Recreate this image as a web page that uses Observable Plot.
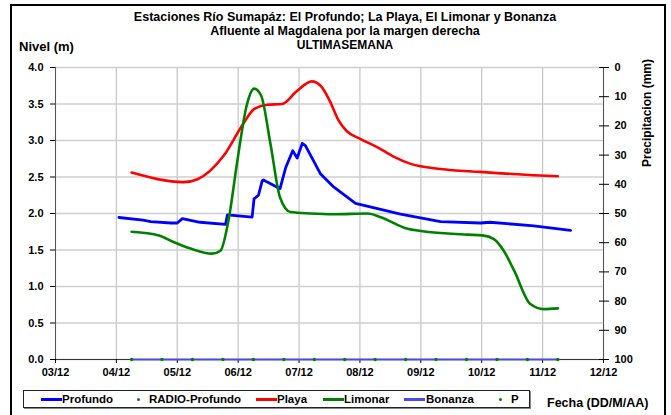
<!DOCTYPE html>
<html><head><meta charset="utf-8">
<script src="https://cdn.jsdelivr.net/npm/d3@7"></script>
<script src="https://cdn.jsdelivr.net/npm/@observablehq/plot@0.6"></script>
<style>
body{margin:0;background:#fff;font-family:"Liberation Sans",Arial,sans-serif;}
#wrap{position:relative;width:671px;height:415px;overflow:hidden;background:#fff;}
#frame{position:absolute;left:10px;top:4px;width:656px;height:440px;border:2px solid #000;box-sizing:border-box;}
#chart{position:absolute;left:0;top:0;}
.t{position:absolute;font-weight:bold;color:#000;white-space:nowrap;}
#title{left:345px;top:10px;transform:translateX(-50%);text-align:center;font-size:12.5px;line-height:14px;}
#title .l3{font-size:12px;}
#nivel{left:19px;top:39px;font-size:13px;}
#precip{left:647px;top:113px;font-size:12px;transform:translate(-50%,-50%) rotate(-90deg);}
#fecha{left:547px;top:396px;font-size:12.5px;}
#legend{position:absolute;left:23px;top:390px;width:507px;height:18px;box-sizing:border-box;border:1px solid #222;box-shadow:1px 1px 0 #888;background:#fff;}
#legend .lab{position:absolute;top:1px;font-size:11.5px;font-weight:bold;line-height:14px;}
#legend .ln{position:absolute;top:7px;width:21px;height:3px;}
#legend .dt{position:absolute;top:7px;width:3px;height:3px;border-radius:50%;}
</style></head>
<body>
<div id="wrap">
  <div id="chart"></div>
  <div id="frame"></div>
  <div class="t" id="title">Estaciones Río Sumapáz: El Profundo; La Playa, El Limonar y Bonanza<br>Afluente al Magdalena por la margen derecha<br><span class="l3">ULTIMASEMANA</span></div>
  <div class="t" id="nivel">Nivel (m)</div>
  <div class="t" id="precip">Precipitacion (mm)</div>
  <div class="t" id="fecha">Fecha (DD/M/AA)</div>
  <div id="legend"></div>
</div>
<script>
// ---- data ----
const profundoFecha = ["2012-12-04T01:00","2012-12-04T10:30","2012-12-04T13:30","2012-12-04T21:30","2012-12-05T00:00","2012-12-05T02:00","2012-12-05T09:00","2012-12-05T19:00","2012-12-05T19:45","2012-12-06T05:30","2012-12-06T06:15","2012-12-06T08:00","2012-12-06T09:30","2012-12-06T10:00","2012-12-06T11:30","2012-12-06T16:30","2012-12-06T18:45","2012-12-06T21:30","2012-12-06T23:15","2012-12-07T01:15","2012-12-07T02:30","2012-12-07T08:30","2012-12-07T13:45","2012-12-07T22:15","2012-12-08T16:00","2012-12-09T07:45","2012-12-09T23:30","2012-12-10T03:15","2012-12-10T20:30","2012-12-11T11:00"];
const profundoNivel = [1.945,1.91,1.89,1.87,1.87,1.93,1.88,1.85,1.98,1.95,2.20,2.25,2.45,2.46,2.43,2.34,2.63,2.86,2.76,2.96,2.93,2.54,2.36,2.14,1.99,1.89,1.87,1.88,1.83,1.77];

const playaFecha = ["2012-12-04T06:00","2012-12-05T02:30","2012-12-05T08:00","2012-12-05T18:15","2012-12-06T02:00","2012-12-06T06:15","2012-12-06T11:30","2012-12-06T17:15","2012-12-06T23:15","2012-12-07T05:00","2012-12-07T08:30","2012-12-07T12:00","2012-12-07T15:30","2012-12-07T18:45","2012-12-08T00:15","2012-12-08T06:45","2012-12-08T13:15","2012-12-08T20:00","2012-12-09T07:45","2012-12-09T23:30","2012-12-10T23:00","2012-12-11T06:00"];
const playaNivel = [2.56,2.43,2.47,2.79,3.23,3.43,3.49,3.50,3.68,3.81,3.75,3.55,3.28,3.13,3.02,2.91,2.78,2.68,2.61,2.57,2.52,2.51];

const limonarFecha = ["2012-12-04T06:00","2012-12-04T16:45","2012-12-04T22:30","2012-12-05T05:15","2012-12-05T13:45","2012-12-05T17:00","2012-12-05T20:25","2012-12-05T23:30","2012-12-06T03:30","2012-12-06T06:15","2012-12-06T09:00","2012-12-06T12:45","2012-12-06T16:30","2012-12-06T20:40","2012-12-07T04:30","2012-12-07T13:45","2012-12-08T03:00","2012-12-08T08:10","2012-12-08T18:45","2012-12-09T00:00","2012-12-09T18:15","2012-12-10T00:15","2012-12-10T04:50","2012-12-10T08:40","2012-12-10T12:45","2012-12-10T19:10","2012-12-11T00:30","2012-12-11T06:00"];
const limonarNivel = [1.75,1.70,1.61,1.52,1.45,1.49,1.95,2.68,3.50,3.71,3.62,2.95,2.22,2.02,2.00,1.99,2.00,1.95,1.79,1.76,1.71,1.70,1.65,1.49,1.22,0.76,0.69,0.70];

const bonanzaFecha = ["2012-12-04T06:00","2012-12-11T06:00"];
const bonanzaNivel = [0,0];

const pFecha = ["2012-12-04T06:00","2012-12-04T18:00","2012-12-05T06:00","2012-12-05T18:00","2012-12-06T06:00","2012-12-06T18:00","2012-12-07T06:00","2012-12-07T18:00","2012-12-08T06:00","2012-12-08T18:00","2012-12-09T06:00","2012-12-09T18:00","2012-12-10T06:00","2012-12-10T18:00","2012-12-11T06:00"];
const pValor = [0,0,0,0,0,0,0,0,0,0,0,0,0,0,0];

const nivelTicks = [0,0.5,1,1.5,2,2.5,3,3.5,4];
const precipTicks = [0,10,20,30,40,50,60,70,80,90,100];
const fechaInicio = "2012-12-03T00:00", fechaFin = "2012-12-12T00:00";

const legendNames = ["Profundo","RADIO-Profundo","Playa","Limonar","Bonanza","P"];
const legendColors = ["#0000ff","#008000","#ff0000","#008000","#4a4ae6","#008000"];
const legendKinds = ["line","dot","line","line","line","dot"];

// ---- build ----
const parse = s => new Date(s + ":00Z");
const rows = (f, v) => f.map((d, i) => ({fecha: parse(d), nivel: v[i]}));
const X0 = parse(fechaInicio), X1 = parse(fechaFin);
const dayTicks = d3.utcDay.range(X0, new Date(+X1 + 1));
const pMax = d3.max(precipTicks), yMax = d3.max(nivelTicks);
const precipToY = p => yMax - p * yMax / pMax;

const chart = Plot.plot({
  width: 671, height: 415,
  marginTop: 67, marginBottom: 56, marginLeft: 55, marginRight: 68,
  style: {fontFamily: "Liberation Sans, Arial, sans-serif", fontSize: "11px", fontWeight: "bold", color: "#000", background: "transparent"},
  x: {type: "utc", domain: [X0, X1]},
  y: {domain: [0, yMax]},
  marks: [
    Plot.gridX(dayTicks, {stroke: "#c8c8c8", strokeOpacity: 1, strokeWidth: 1.3}),
    Plot.gridY(nivelTicks, {stroke: "#cfcfcf", strokeOpacity: 1, strokeWidth: 1.3}),
    Plot.ruleX([X0, X1], {stroke: "#555"}),
    Plot.ruleY([0], {stroke: "#333"}),
    Plot.axisY({ticks: nivelTicks, anchor: "left", tickSize: 5, tickPadding: 7, tickFormat: d => d.toFixed(1), label: null}),
    Plot.axisY({ticks: precipTicks.map(precipToY), anchor: "right", tickSize: 10, dx: -5, tickFormat: () => "", label: null}),
    Plot.axisY({ticks: precipTicks.map(precipToY), anchor: "right", tickSize: 0, tickPadding: 11, tickFormat: d => String(Math.round((yMax - d) * pMax / yMax)), label: null}),
    Plot.axisX({ticks: dayTicks, anchor: "bottom", tickSize: 4, tickPadding: 5, tickFormat: d3.utcFormat("%d/%m"), label: null}),
    Plot.line(rows(profundoFecha, profundoNivel), {x: "fecha", y: "nivel", stroke: "#0000ff", strokeWidth: 2.8, curve: "linear"}),
    Plot.line(rows(playaFecha, playaNivel), {x: "fecha", y: "nivel", stroke: "#ff0000", strokeWidth: 2.6, curve: "monotone-x"}),
    Plot.line(rows(limonarFecha, limonarNivel), {x: "fecha", y: "nivel", stroke: "#008000", strokeWidth: 2.6, curve: "monotone-x"}),
    Plot.line(rows(bonanzaFecha, bonanzaNivel), {x: "fecha", y: "nivel", stroke: "#4a4ae6", strokeWidth: 2}),
    Plot.dot(rows(pFecha, pValor), {x: "fecha", y: "nivel", r: 1.7, fill: "#008000", stroke: null})
  ]
});
document.getElementById("chart").appendChild(chart);

// legend
const legendX = [17, 113, 232, 299, 380, 475];
const legendTextX = [38, 125, 253, 320, 402, 487];
const lg = document.getElementById("legend");
legendNames.forEach((name, i) => {
  const sw = document.createElement("div");
  sw.className = legendKinds[i] === "line" ? "ln" : "dt";
  sw.style.left = legendX[i] + "px";
  sw.style.background = legendColors[i];
  lg.appendChild(sw);
  const t = document.createElement("div");
  t.className = "lab";
  t.style.left = legendTextX[i] + "px";
  t.textContent = name;
  lg.appendChild(t);
});
</script>
</body></html>
